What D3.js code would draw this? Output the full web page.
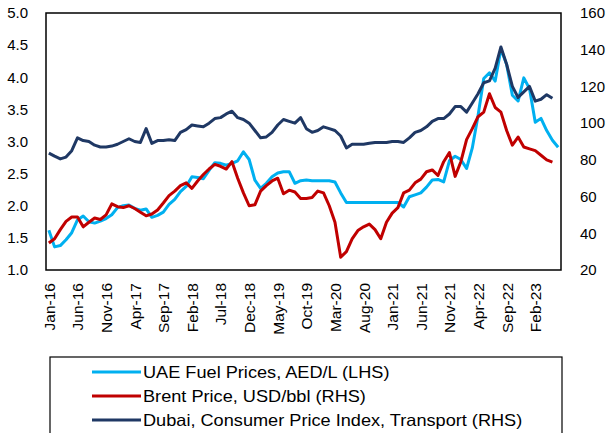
<!DOCTYPE html>
<html>
<head>
<meta charset="utf-8">
<script src="https://cdn.jsdelivr.net/npm/d3@7"></script>
<style>
    body { margin: 0; background: #fff; }
    text { font-family: "Liberation Sans", Arial, sans-serif; fill: #000; }
</style>
</head>
<body>
<div id="chart"></div>
<script>

// months Jan-16 .. Jun-23
const months = d3.timeMonths(new Date(2016, 0, 1), new Date(2023, 6, 1));

// UAE fuel prices, AED/L (left axis)
const fuel = [1.62, 1.36, 1.38, 1.47, 1.58, 1.78, 1.84, 1.75, 1.73, 1.76,
    1.80, 1.86, 1.97, 2.00, 2.01, 1.96, 1.93, 1.95, 1.82, 1.85,
    1.90, 2.02, 2.10, 2.22, 2.30, 2.45, 2.44, 2.42, 2.55, 2.67,
    2.66, 2.63, 2.66, 2.70, 2.84, 2.72, 2.40, 2.27, 2.35, 2.45,
    2.51, 2.53, 2.53, 2.35, 2.39, 2.40, 2.39, 2.39, 2.39, 2.39,
    2.37, 2.20, 2.05, 2.05, 2.05, 2.05, 2.05, 2.05, 2.05, 2.05,
    2.05, 2.05, 1.98, 2.14, 2.17, 2.20, 2.29, 2.40, 2.41, 2.37,
    2.70, 2.77, 2.72, 2.58, 2.90, 3.40, 3.98, 4.07, 3.94, 4.44,
    4.20, 3.72, 3.63, 3.99, 3.82, 3.30, 3.36, 3.17, 3.02, 2.91];

// Brent, USD/bbl (right axis)
const brent = [34.7, 37, 42, 46.5, 48.9, 48.9, 43.5, 46, 48.3, 47.5,
    50, 56, 54.5, 54, 55, 53.5, 51.5, 49.5, 50.5, 52.7,
    56.5, 60.5, 63, 66, 67.5, 64.5, 68.5, 72, 75, 77.5,
    76.5, 75, 79, 70, 62, 55, 55.5, 63, 66, 68.5,
    70, 61.5, 63.5, 62.5, 59, 59, 59.5, 63, 62, 55,
    46, 27, 30, 37, 41.5, 43.5, 45, 42, 37, 46,
    51, 54, 62, 63.5, 67.5, 69.5, 73.5, 74.5, 71.5, 79,
    84, 71, 79, 91, 97, 103.5, 106, 116, 108.5, 106,
    96, 88, 92.4, 87, 86, 85, 82.5, 80, 78.8];

// Dubai CPI, transport (right axis)
const cpi = [83.7, 82, 80.5, 81.5, 85, 92, 90.5, 90, 88, 87,
    87, 87.5, 88.5, 90, 91.5, 90, 89.5, 97, 89, 90.5,
    90.5, 91, 90.5, 95, 96.5, 99, 98.5, 98, 100, 102.5,
    103, 105, 106.5, 103, 102, 100, 96, 92, 92.5, 95,
    99, 102, 101, 100, 103, 97, 95, 96, 98, 97,
    96, 93, 86.5, 88.5, 88.5, 88.5, 89, 89.5, 89.5, 89.5,
    90, 90, 89.5, 92, 95, 96, 98, 101, 102.5, 102.5,
    105, 109, 109, 106, 111, 116, 122, 123, 130, 141.5,
    132, 120, 114, 117, 120, 112, 113, 115.5, 113.5];

const leftTicks = [1.0, 1.5, 2.0, 2.5, 3.0, 3.5, 4.0, 4.5, 5.0];
const rightTicks = [20, 40, 60, 80, 100, 120, 140, 160];
const xTicks = months.filter(function (d, i) { return i % 5 === 0; });

const seriesNames = ["UAE Fuel Prices, AED/L (LHS)", "Brent Price, USD/bbl (RHS)",
    "Dubai, Consumer Price Index, Transport (RHS)"];
const colors = ["#00b0f0", "#c00000", "#1f3864"];

const W = 610, H = 433;
const margin = {top: 13, right: 49, bottom: 163, left: 46};
const width = W - margin.left - margin.right;
const height = H - margin.top - margin.bottom;

const svg = d3.select("#chart")
    .append("svg")
    .attr("width", W)
    .attr("height", H);

const g = svg.append("g")
    .attr("transform", "translate(" + margin.left + "," + margin.top + ")");

let x = d3.scalePoint().domain(months).range([0, width]).padding(0.5);
let yL = d3.scaleLinear().domain([1, 5]).range([height, 0]);
let yR = d3.scaleLinear().domain([20, 160]).range([height, 0]);

// lines
let lineL = d3.line()
    .x(function (d, i) { return x(months[i]); })
    .y(function (d) { return yL(d); });
let lineR = d3.line()
    .x(function (d, i) { return x(months[i]); })
    .y(function (d) { return yR(d); });

[[fuel, lineL], [brent, lineR], [cpi, lineR]].forEach(function (s, k) {
    g.append("path")
        .attr("d", s[1](s[0]))
        .attr("fill", "none")
        .attr("stroke", colors[k])
        .attr("stroke-width", 3)
        .attr("stroke-linejoin", "round");
});

// frame
g.append("rect")
    .attr("width", width)
    .attr("height", height)
    .attr("fill", "none")
    .attr("stroke", "#000")
    .attr("stroke-width", 1.5);

// Left axis
g.append("g")
    .attr("transform", "translate(-15,0)")
    .call(d3.axisLeft(yL).tickValues(leftTicks).tickSize(0).tickFormat(d3.format(".1f")))
    .call(function (a) { a.select(".domain").remove(); })
    .selectAll("text")
    .style("font-family", "'Liberation Sans', Arial, sans-serif")
    .style("font-size", "15px")
    .attr("fill", "#000");

// Right axis
g.append("g")
    .attr("transform", "translate(" + (width + 16) + ",0)")
    .call(d3.axisRight(yR).tickValues(rightTicks).tickSize(0))
    .call(function (a) { a.select(".domain").remove(); })
    .selectAll("text")
    .style("font-family", "'Liberation Sans', Arial, sans-serif")
    .style("font-size", "15px")
    .attr("fill", "#000");

// X axis
g.append("g")
    .attr("transform", "translate(0," + height + ")")
    .call(d3.axisBottom(x).tickValues(xTicks).tickSize(0).tickFormat(d3.timeFormat("%b-%y")))
    .call(function (a) { a.select(".domain").remove(); })
    .selectAll("text")
    .style("font-family", "'Liberation Sans', Arial, sans-serif")
    .style("font-size", "15.5px")
    .attr("fill", "#000")
    .style("text-anchor", "end")
    .attr("x", -13)
    .attr("y", 0)
    .attr("dy", "0.35em")
    .attr("transform", "rotate(-90)");

// Legend
const leg = svg.append("g").attr("transform", "translate(50,357)");
leg.append("rect")
    .attr("width", 512)
    .attr("height", 90)
    .attr("fill", "#fff")
    .attr("stroke", "#000")
    .attr("stroke-width", 1.2);

seriesNames.forEach(function (name, i) {
    const yy = 15 + i * 24;
    leg.append("line")
        .attr("x1", 42).attr("x2", 91)
        .attr("y1", yy).attr("y2", yy)
        .attr("stroke", colors[i])
        .attr("stroke-width", 3);
    const t = leg.append("text")
        .attr("x", 93)
        .attr("y", yy)
        .attr("dy", "0.35em")
        .style("font-size", "16.5px")
        .text(name);
    // the source text is drawn slightly wider than the font
    t.attr("textLength", t.node().getComputedTextLength() * 1.1)
        .attr("lengthAdjust", "spacingAndGlyphs");
});

</script>
</body>
</html>
